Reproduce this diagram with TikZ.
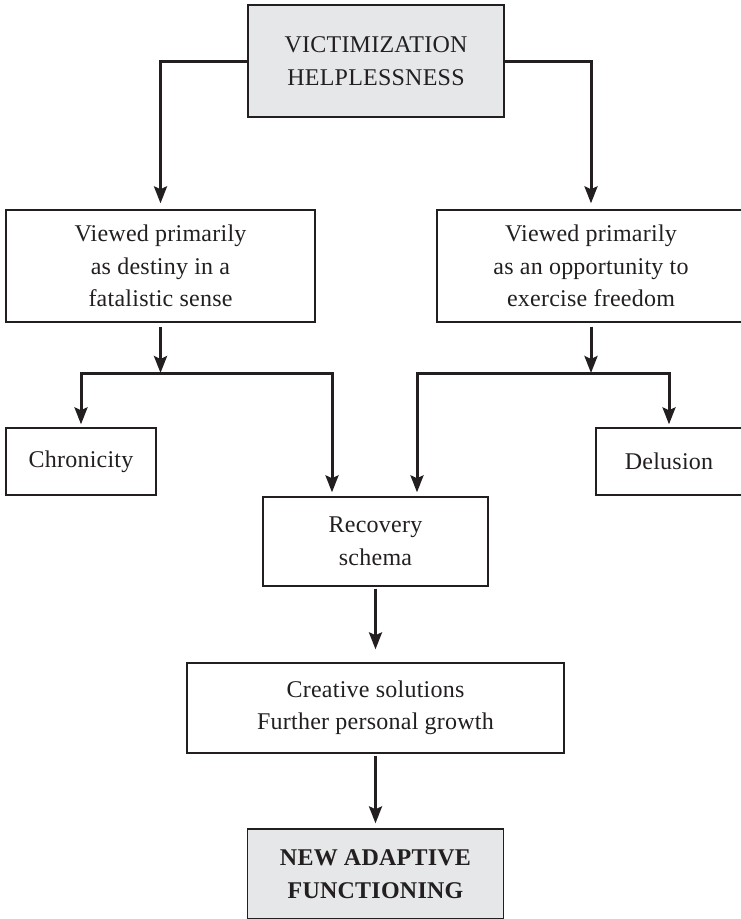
\documentclass[tikz,border=0pt]{standalone}
\usepackage{fontspec}
\setmainfont{Liberation Serif}[LetterSpace=1]
\usetikzlibrary{arrows.meta}
\definecolor{ink}{HTML}{231F20}
\definecolor{boxgray}{HTML}{E6E7E8}
\begin{document}
\begin{tikzpicture}[x=1pt,y=-1pt,
  >={Stealth[length=17pt,width=13pt,inset=3pt]},
  box/.style={draw=ink, line width=1.3pt, fill=white, inner sep=0pt, align=center, text=ink, font=\fontsize{24}{32.5}\selectfont},
  graybox/.style={box, fill=boxgray},
  conn/.style={draw=ink, line width=3pt, ->, line join=miter}]
\useasboundingbox (0,0) rectangle (740,919);
\node[graybox, minimum width=256pt, minimum height=112pt] (top) at (376,61) {VICTIMIZATION\\HELPLESSNESS};
\node[box, minimum width=309pt, minimum height=112pt] (left) at (160.5,266) {Viewed primarily\\as destiny in a\\fatalistic sense};
\node[box, minimum width=308pt, minimum height=112pt] (right) at (591,266) {Viewed primarily\\as an opportunity to\\exercise freedom};
\node[box, minimum width=150pt, minimum height=67pt] (chron) at (81,461.5) {Chronicity};
\node[box, minimum width=146pt, minimum height=67pt] (delu) at (669,461.5) {Delusion};
\node[box, minimum width=225pt, minimum height=89pt] (rec) at (375.5,541.5) {Recovery\\schema};
\node[box, minimum width=377pt, minimum height=90pt] (crea) at (375.5,708) {Creative solutions\\Further personal growth};
\node[graybox, minimum width=256pt, minimum height=90pt, font=\fontsize{24}{32.5}\selectfont\bfseries] (new) at (375.5,874) {NEW ADAPTIVE\\FUNCTIONING};
\coordinate (hl) at (0,373);
\coordinate (recL) at ([xshift=-43.5pt]rec.north);
\coordinate (recR) at ([xshift=41.5pt]rec.north);
\draw[conn, shorten >=6pt] (top.west) -| (left.north);
\draw[conn, shorten >=6pt] (top.east) -| (right.north);
\draw[conn, shorten <=4pt] (left.south) -- (left.south |- hl);
\draw[conn, shorten <=4pt] (right.south) -- (right.south |- hl);
\draw[conn, <->, shorten <=3pt, shorten >=4pt] (chron.north) |- (recL |- hl) -- (recL);
\draw[conn, <->, shorten <=3pt, shorten >=4pt] (delu.north) |- (recR |- hl) -- (recR);
\draw[conn, shorten <=2pt, shorten >=13pt] (rec.south) -- (crea.north);
\draw[conn, shorten <=2pt, shorten >=5pt] (crea.south) -- (new.north);
\end{tikzpicture}
\end{document}
